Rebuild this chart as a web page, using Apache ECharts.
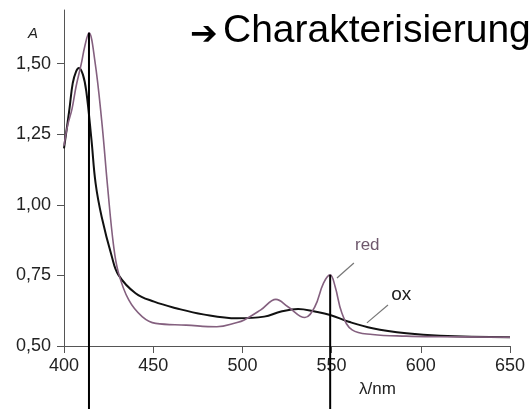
<!DOCTYPE html>
<html>
<head>
<meta charset="utf-8">
<script src="https://cdn.jsdelivr.net/npm/echarts@6/dist/echarts.min.js"></script>
<style>
html,body{margin:0;padding:0;background:#fff;}
#chart{width:531px;height:409px;}
</style>
</head>
<body>
<div id="chart"></div>
<script>
// wavelength (nm) and absorbance readings for the reduced form ("red")
const redLambda = [400, 402, 404.5, 406.8, 409.7, 411.6, 414, 417.3, 421.1, 424.5, 427.7, 430.5, 436.3, 443.8, 451.4, 468.5, 485.6, 497, 501, 510.3, 518.8, 525.5, 535, 540.6, 545.4, 549.2, 552, 555.8, 561.5, 572.9, 591.9, 610.8, 650];
const redAbs    = [1.21, 1.28, 1.34, 1.42, 1.50, 1.56, 1.609, 1.51, 1.30, 1.06, 0.86, 0.76, 0.663, 0.604, 0.58, 0.574, 0.568, 0.583, 0.592, 0.628, 0.665, 0.639, 0.601, 0.639, 0.722, 0.752, 0.71, 0.616, 0.557, 0.541, 0.535, 0.533, 0.531];
// oxidised form ("ox")
const oxLambda = [400, 403, 404.9, 406.8, 408.4, 410.6, 412.5, 415.4, 417.7, 421.1, 426.8, 430.5, 440.1, 450.5, 462.8, 478, 497, 512.2, 521.7, 531.2, 540.6, 549.2, 559.6, 572.9, 591.9, 610.8, 650];
const oxAbs    = [1.20, 1.337, 1.431, 1.473, 1.485, 1.461, 1.402, 1.23, 1.077, 0.958, 0.817, 0.752, 0.687, 0.657, 0.634, 0.612, 0.598, 0.604, 0.622, 0.631, 0.622, 0.61, 0.586, 0.563, 0.545, 0.536, 0.531];
// y tick labels
const yTicks = [0.5, 0.75, 1.0, 1.25, 1.5];
// vertical marker lines: wavelength, top absorbance
const markerLambda = [414, 549.2];
const markerTop = [1.609, 0.752];
const markerBottom = 0.27;
// annotation labels
const redLabel = {text: 'red', at: [570, 0.858], leader: [[553, 0.741], [562.5, 0.794]]};
const oxLabel  = {text: 'ox',  at: [589, 0.683], leader: [[569.8, 0.582], [581.6, 0.645]]};

const zip = (a, b) => a.map((v, i) => [v, b[i]]);
const fmt = v => v.toFixed(2).replace('.', ',');
const FONT = '"Liberation Sans", Arial, sans-serif';

const chart = echarts.init(document.getElementById('chart'), null, {renderer: 'canvas'});

const markerSeries = markerLambda.map((l, i) => ({
  type: 'line', data: [[l, markerTop[i]], [l, markerBottom]], clip: false,
  symbol: 'none', silent: true, z: 5,
  lineStyle: {color: '#000', width: 2}
}));

function annot(lbl, color, size) {
  return {
    silent: true,
    symbol: 'circle', symbolSize: 1,
    itemStyle: {color: 'rgba(0,0,0,0)'},
    label: {show: true, position: 'inside', formatter: lbl.text, color: color, fontSize: size, fontFamily: FONT},
    data: [{coord: lbl.at}]
  };
}
function leader(lbl) {
  return {
    silent: true, symbol: ['none', 'none'],
    lineStyle: {color: '#777', width: 1.2, type: 'solid'},
    label: {show: false},
    data: [[{coord: lbl.leader[0]}, {coord: lbl.leader[1]}]]
  };
}

chart.setOption({
  animation: false,
  backgroundColor: '#fff',
  grid: {left: 64, right: 21, top: 10, bottom: 63},
  xAxis: {
    type: 'value', min: 400, max: 650, interval: 50,
    axisLine: {show: true, onZero: false, lineStyle: {color: '#555', width: 1}},
    axisTick: {show: true, inside: false, length: 7, lineStyle: {color: '#555'}},
    axisLabel: {color: '#222', fontSize: 18, fontFamily: FONT, margin: 11},
    splitLine: {show: false}
  },
  yAxis: {
    type: 'value', min: 0.5, max: 1.69,
    axisLine: {show: true, onZero: false, lineStyle: {color: '#555', width: 1}},
    axisTick: {show: true, inside: false, length: 7, customValues: yTicks, lineStyle: {color: '#555'}},
    axisLabel: {color: '#222', fontSize: 18, fontFamily: FONT, margin: 13, customValues: yTicks, formatter: fmt},
    splitLine: {show: false}
  },
  series: [
    {
      name: 'ox', type: 'line', data: zip(oxLambda, oxAbs), smooth: 0.4,
      symbol: 'none', z: 3,
      lineStyle: {color: '#111', width: 2},
      markLine: leader(oxLabel),
      markPoint: annot(oxLabel, '#222', 19)
    },
    {
      name: 'red', type: 'line', data: zip(redLambda, redAbs), smooth: 0.4,
      symbol: 'none', z: 4,
      lineStyle: {color: '#84607f', width: 1.6},
      markLine: leader(redLabel),
      markPoint: annot(redLabel, '#6e586c', 17)
    }
  ].concat(markerSeries),
  graphic: [
    {type: 'text', left: 190, top: 19, style: {text: '\u2794', font: 'bold 33px "DejaVu Sans"', fill: '#000'}},
    {type: 'text', left: 223, top: 12, style: {text: 'Charakterisierung', font: '39px "Liberation Sans", Arial, sans-serif', fill: '#000'}},
    {type: 'text', left: 28, top: 26, style: {text: 'A', font: 'italic 15px "Liberation Sans", Arial, sans-serif', fill: '#222'}},
    {type: 'text', left: 359, top: 381, style: {text: '\u03bb/nm', font: '17px "Liberation Sans", Arial, sans-serif', fill: '#222'}}
  ]
});
</script>
</body>
</html>
